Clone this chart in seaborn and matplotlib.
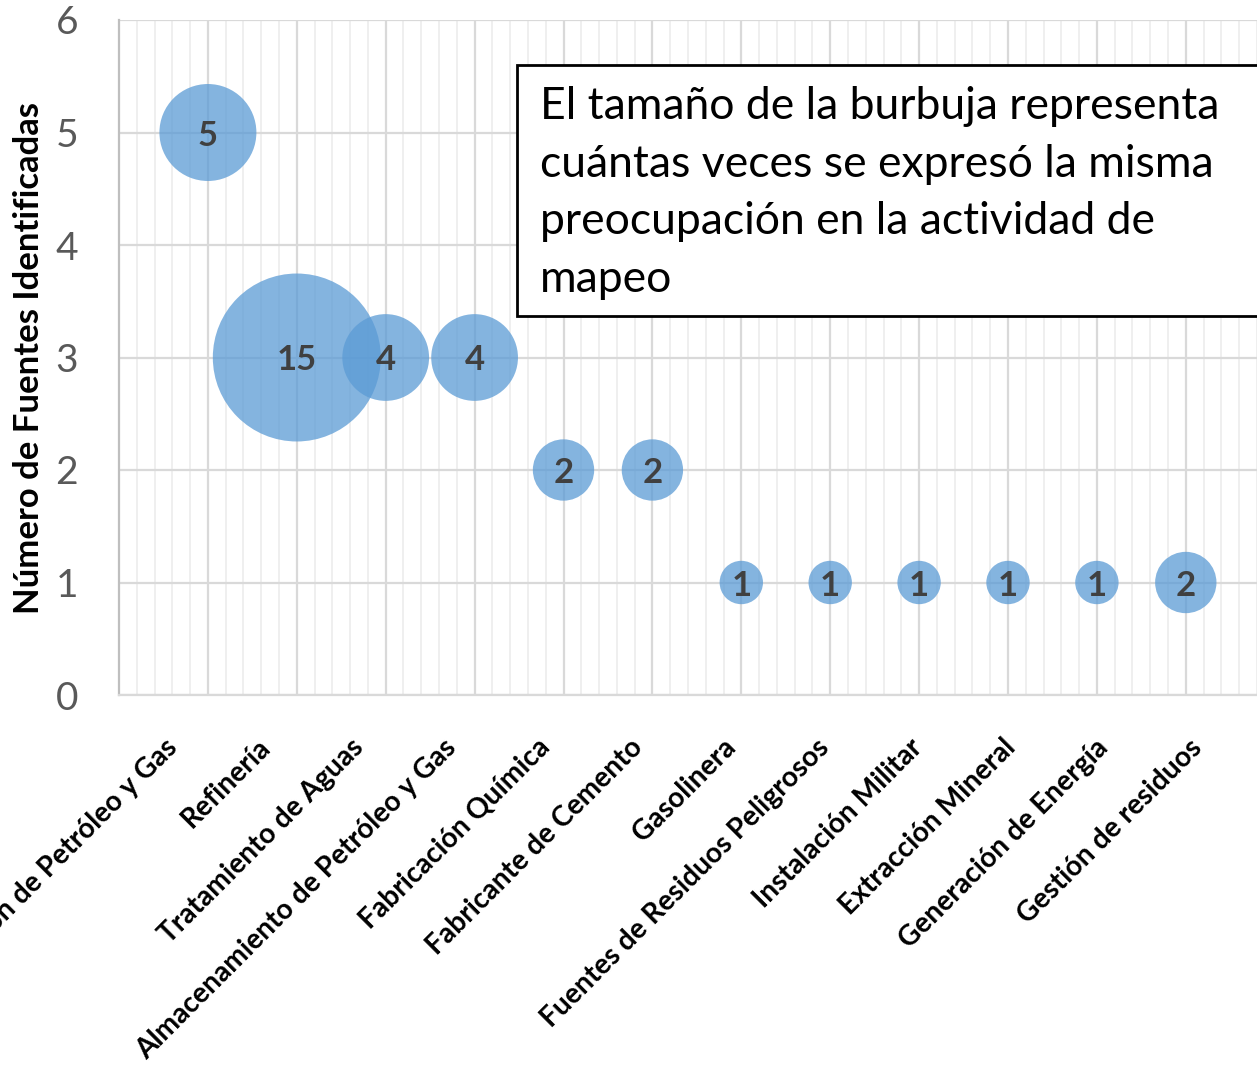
import matplotlib
matplotlib.use("Agg")
import matplotlib.pyplot as plt
from matplotlib import font_manager as fm
from matplotlib.patches import Rectangle
from matplotlib.ticker import MultipleLocator
import seaborn as sns
import pandas as pd

categories = [
    "Producción de Petróleo y Gas",
    "Refinería",
    "Tratamiento de Aguas",
    "Almacenamiento de Petróleo y Gas",
    "Fabricación Química",
    "Fabricante de Cemento",
    "Gasolinera",
    "Fuentes de Residuos Peligrosos",
    "Instalación Militar",
    "Extracción Mineral",
    "Generación de Energía",
    "Gestión de residuos",
]
x_pos = list(range(1, 13))
num_sources = [5, 3, 3, 3, 2, 2, 1, 1, 1, 1, 1, 1]
times_expressed = [5, 15, 4, 4, 2, 2, 1, 1, 1, 1, 1, 2]
y_ticks = [0, 1, 2, 3, 4, 5, 6]
ylabel = "Número de Fuentes Identificadas"
note_lines = [
    "El tamaño de la burbuja representa",
    "cuántas veces se expresó la misma",
    "preocupación en la actividad de",
    "mapeo",
]

sns.set_style("white")


def has_bold(family):
    for f in fm.fontManager.ttflist:
        try:
            w = int(f.weight)
        except Exception:
            w = 700 if "bold" in str(f.weight).lower() else 400
        if f.name == family and f.style == "normal" and w >= 600:
            return True
    return False


REG = "Lato"
BOLD = next((f for f in ["Lato", "Open Sans", "Noto Sans", "Liberation Sans"] if has_bold(f)),
            "DejaVu Sans")
plt.rcParams["font.family"] = [REG, "DejaVu Sans"]

W, H = 1257, 1088
fig = plt.figure(figsize=(W / 100, H / 100), dpi=100)
renderer = fig.canvas.get_renderer()


def fit_size(text, family, weight, target_px, base=20.0):
    t = fig.text(0, 0, text, fontsize=base, family=[family, "DejaVu Sans"], fontweight=weight)
    w = t.get_window_extent(renderer).width
    t.remove()
    return base * target_px / w


fs_note = fit_size(note_lines[0], REG, "normal", 681)
fs_ylab = fit_size(ylabel, BOLD, "bold", 512)
fs_xlab = fit_size(categories[7], BOLD, "bold", 395)

# main axes: x from 0 to 13, category spacing 88.9 px
ax = fig.add_axes([119 / W, 1 - 695 / H, 13 * 88.9 / W, 675 / H])

df = pd.DataFrame({"x": x_pos, "y": num_sources, "n": times_expressed})

unit = 975.0
sns.scatterplot(
    data=df, x="x", y="y", size="n",
    sizes=(unit * 1, unit * 15), size_norm=(1, 15),
    color="#5B9BD5", alpha=0.75, edgecolor="none", linewidth=0,
    legend=False, ax=ax, zorder=3,
)

for xi, yi, ni in zip(x_pos, num_sources, times_expressed):
    ax.text(xi, yi, str(ni), ha="center", va="center_baseline", fontsize=25,
            fontweight="bold", family=[BOLD, "DejaVu Sans"], color="#404040", zorder=4)

ax.set_xlim(0, 13)
ax.set_ylim(0, 6)
ax.set_yticks(y_ticks)
ax.set_yticklabels([str(v) for v in y_ticks])
ax.set_xticks(x_pos)
ax.set_xticklabels([])
ax.xaxis.set_minor_locator(MultipleLocator(0.2))

ax.grid(True, which="major", axis="both", color="#D9D9D9", linewidth=1.6, zorder=0)
ax.grid(True, which="minor", axis="x", color="#EFEFEF", linewidth=1.4, zorder=0)
ax.set_axisbelow(True)

for s in ["top", "right"]:
    ax.spines[s].set_visible(False)
ax.spines["bottom"].set_color("#D9D9D9")
ax.spines["bottom"].set_linewidth(1.6)
ax.spines["left"].set_color("#BFBFBF")
ax.spines["left"].set_linewidth(1.6)

ax.tick_params(axis="y", which="major", length=9.4, width=1.6, color="#BFBFBF",
               labelsize=28, labelcolor="#595959", pad=20)
ax.tick_params(axis="x", which="both", length=0)

ax.set_xlabel("")
ax.set_ylabel(ylabel, fontsize=fs_ylab, fontweight="bold", family=[BOLD, "DejaVu Sans"],
              color="black")
ax.yaxis.set_label_coords((45 - 119) / (13 * 88.9), 0.5)

# category labels: evenly spread along the bottom, as in the source chart
lab_first_px, lab_step_px = 179.0, 93.1
ax2 = ax.twiny()
ax2.xaxis.set_ticks_position("bottom")
x0 = -(lab_first_px - 119) / lab_step_px
ax2.set_xlim(x0, x0 + 13 * 88.9 / lab_step_px)
ax2.set_xticks(range(len(categories)))
ax2.set_xticklabels(categories, rotation=45, ha="right", va="baseline",
                    rotation_mode="anchor", fontsize=fs_xlab, fontweight="bold",
                    family=[BOLD, "DejaVu Sans"], color="black")
ax2.tick_params(axis="x", length=0, pad=39)
ax2.grid(False)
for s in ax2.spines.values():
    s.set_visible(False)

# annotation box
rect = Rectangle((517 / W, 1 - 316 / H), 800 / W, 251 / H, transform=fig.transFigure,
                 facecolor="white", edgecolor="black", linewidth=2, zorder=5)
fig.patches.append(rect)
baselines = [119, 177, 234, 292]
for line, b in zip(note_lines, baselines):
    fig.text(540 / W, 1 - b / H, line, ha="left", va="baseline",
             fontsize=fs_note, color="black", zorder=6)

fig.savefig("out.png", dpi=100)
